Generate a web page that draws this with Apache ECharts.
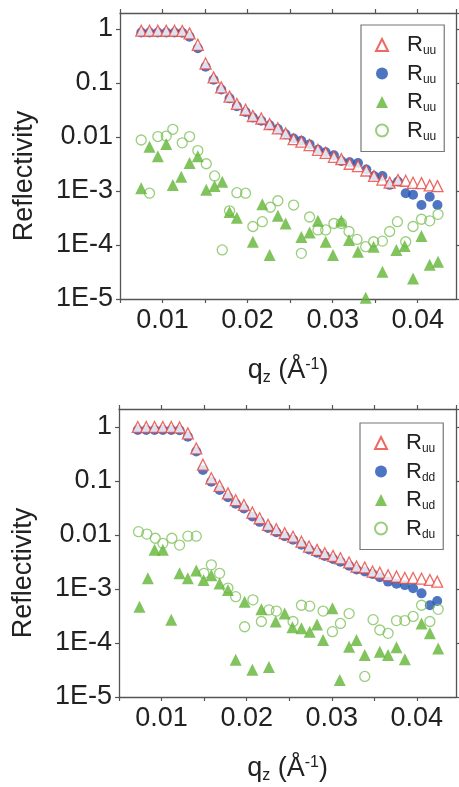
<!DOCTYPE html>
<html><head><meta charset="utf-8">
<script src="https://cdn.jsdelivr.net/npm/echarts@6/dist/echarts.min.js"></script>
<style>html,body{margin:0;padding:0;background:#fff}#c{width:459px;height:787px}</style>
</head><body><div id="c"></div>
<script>
// ---------- data: top panel ----------
const qTopUU = [0.0075,0.00847,0.00945,0.01044,0.01141,0.01232,0.01318,0.01415,0.01506,0.016,0.0169,0.01788,0.01874,0.01976,0.02062,0.02161,0.02259,0.02356,0.02447,0.02541,0.02632,0.02729,0.02827,0.02918,0.03015,0.03102,0.032,0.03298,0.03396,0.03486,0.03585,0.0367,0.03768,0.03859,0.03945,0.04044,0.04141,0.04232];
const rTopUU = [0.93,0.93,0.93,0.93,0.93,0.92,0.83,0.51,0.23,0.127,0.083,0.056,0.041,0.032,0.0245,0.022,0.0174,0.0145,0.0117,0.0091,0.0082,0.0071,0.0058,0.0051,0.0043,0.0039,0.0032,0.0029,0.0024,0.0019,0.00163,0.00143,0.0016,0.00155,0.00142,0.0014,0.00127,0.00123];
const rTopDD = [0.86,0.86,0.86,0.86,0.86,0.85,0.72,0.44,0.2,0.115,0.076,0.052,0.037,0.029,0.023,0.02,0.0165,0.014,0.0112,0.0094,0.0085,0.0073,0.0058,0.0052,0.0046,0.0036,0.0034,0.0033,0.0025,0.0019,0.0019,0.0013,0.0015,0.00091,0.00085,0.00055,0.00078,0.00055];
const qTopUD = [0.00749,0.00847,0.00945,0.01044,0.01121,0.0122,0.01318,0.01415,0.01514,0.01612,0.01702,0.01788,0.01874,0.02062,0.02173,0.02259,0.02356,0.02447,0.02632,0.02729,0.02827,0.02918,0.03004,0.03102,0.03192,0.03298,0.03388,0.03482,0.03585,0.03749,0.03847,0.03945,0.04044,0.04141,0.04239];
const rTopUD = [0.00112,0.0066,0.0044,0.0074,0.00129,0.00184,0.0033,0.0044,0.00105,0.00124,0.00149,0.00041,0.00032,0.000115,0.00057,6.5e-5,0.00035,0.00025,0.00014,0.00017,0.00028,0.000115,6.5e-5,0.00028,0.000124,7.5e-5,1.05e-5,9.3e-5,3.2e-5,8.1e-5,9.6e-5,2.4e-5,0.000147,4.3e-5,4.9e-5];
const qTopDU = [0.00749,0.00847,0.00945,0.01044,0.01121,0.01232,0.01318,0.01415,0.01514,0.01612,0.01702,0.01788,0.01874,0.01976,0.02062,0.02173,0.02268,0.02356,0.02541,0.02632,0.02729,0.02827,0.02918,0.03015,0.03102,0.03192,0.03286,0.03388,0.03482,0.03585,0.0367,0.03761,0.03859,0.03945,0.04044,0.04141,0.04239];
const rTopDU = [0.0088,0.00091,0.0102,0.0104,0.0139,0.0078,0.0102,0.0056,0.0032,0.0019,8.1e-5,0.00043,0.00093,0.00091,0.00022,0.00027,0.0005,0.00066,0.00055,7.0e-5,0.00033,0.00019,0.00019,0.00025,0.00025,0.000178,0.000127,9.3e-5,0.000115,0.000118,0.000178,0.00027,0.000115,0.00022,0.0003,0.00028,0.00037];

// ---------- data: bottom panel ----------
const qBotUU = [0.00721,0.0082,0.00918,0.01015,0.01114,0.01212,0.01309,0.01408,0.01486,0.01585,0.01682,0.0178,0.01871,0.01968,0.02067,0.02153,0.02251,0.02349,0.02447,0.02545,0.02644,0.02733,0.02827,0.02918,0.03015,0.03102,0.03204,0.03291,0.03388,0.03479,0.03565,0.03662,0.03761,0.03859,0.03956,0.04055,0.04153,0.04239];
const rBotUU = [1.0,1.0,1.0,1.0,1.0,0.98,0.76,0.40,0.20,0.112,0.081,0.059,0.044,0.036,0.026,0.0204,0.0154,0.0128,0.0108,0.0093,0.0075,0.0061,0.0053,0.0046,0.0041,0.0037,0.0031,0.0026,0.0025,0.0021,0.0020,0.0018,0.0017,0.0016,0.0016,0.00155,0.00147,0.00137];
const rBotDD = [0.88,0.88,0.88,0.88,0.88,0.87,0.66,0.35,0.16,0.097,0.068,0.05,0.038,0.031,0.022,0.0175,0.0135,0.0112,0.0095,0.0082,0.0066,0.0054,0.0047,0.0041,0.0036,0.0032,0.0027,0.0023,0.0021,0.0019,0.00165,0.00137,0.00125,0.00118,0.00103,0.00083,0.0005,0.0006];
const qBotUD = [0.00741,0.00839,0.00918,0.01015,0.01114,0.01212,0.01309,0.01408,0.01494,0.01585,0.01682,0.0178,0.01871,0.01976,0.02067,0.02173,0.02262,0.02341,0.02447,0.02538,0.02644,0.02741,0.02827,0.02898,0.03008,0.03094,0.03204,0.03291,0.03388,0.03565,0.03662,0.03761,0.03859,0.04055,0.04153,0.04251];
const rBotUD = [0.00047,0.00158,0.0053,0.0053,0.00027,0.00195,0.00158,0.0022,0.00147,0.0018,0.00127,0.00096,4.9e-5,0.00058,3.2e-5,0.00042,3.6e-5,0.00025,0.00035,0.000195,0.000187,0.000162,0.00022,0.000114,0.00044,2.06e-5,8.5e-5,0.000114,6.0e-5,6.9e-5,6.0e-5,8.3e-5,5.0e-5,0.00023,0.000151,7.9e-5];
const qBotDU = [0.0073,0.00827,0.00926,0.01015,0.01121,0.01212,0.01309,0.01408,0.01498,0.01585,0.01682,0.0178,0.01871,0.01976,0.02074,0.02173,0.02262,0.02349,0.02545,0.02644,0.02741,0.02898,0.03008,0.03102,0.03204,0.03388,0.03486,0.03565,0.03662,0.03761,0.03859,0.03956,0.04055,0.04153,0.04251];
const rBotDU = [0.0115,0.0104,0.0087,0.007,0.0087,0.0065,0.0095,0.0095,0.00195,0.0028,0.00195,0.00104,0.00072,0.0002,0.00063,0.00025,0.00041,0.00039,0.00025,0.0005,0.00048,0.00039,0.000162,0.00023,0.00035,2.4e-5,0.00027,0.000174,0.000151,0.00026,0.00026,0.00031,0.0005,0.00025,0.00042];

const xTickLabels = ['0.01','0.02','0.03','0.04'];
const legendSubsTop = ['uu','uu','uu','uu'];
const legendSubsBot = ['uu','dd','ud','du'];

// ---------- chart ----------
const FONT = '"Liberation Sans", Arial, sans-serif';
const AX = '#555', TXT = '#222';
const RED = '#e8433b', BLUE = '#2253b3', GREEN = '#62b536', LGREEN = '#7fc25b';
const chart = echarts.init(document.getElementById('c'), null, {renderer: 'canvas'});
const pairs = (q, r) => q.map((v, i) => [v, r[i]]);

function yLab(v) {
  const l = Math.log10(v), e = Math.round(l);
  if (Math.abs(l - e) > 1e-6) return '';
  if (e === 0) return '1';
  if (e === -1) return '0.1';
  if (e === -2) return '0.01';
  return '1E' + e;
}
function xLab(v) {
  const k = Math.round(v * 100);
  if (Math.abs(v * 100 - k) > 1e-6) return '';
  return xTickLabels[k - 1] || '';
}
const axLine = {lineStyle: {color: AX, width: 1.3}};
const axTick = {length: 4, lineStyle: {color: AX, width: 1.2}};

function xAxes(gi, max) {
  return [{
    type: 'value', gridIndex: gi, position: 'bottom', min: 0.005, max: max, interval: 0.005,
    splitLine: {show: false}, axisLine: axLine, axisTick: axTick,
    axisLabel: {fontSize: 27, color: TXT, fontFamily: FONT, margin: 8, formatter: xLab, showMinLabel: true, showMaxLabel: false},
    name: '{t|q}{sub|z}{t| (Å}{sup|-1}{t|)}', nameLocation: 'middle', nameGap: 57,
    nameTextStyle: {rich: {
      t: {fontSize: 27, color: TXT, fontFamily: FONT},
      sub: {fontSize: 16, color: TXT, fontFamily: FONT, padding: [14, 0, 0, 0]},
      sup: {fontSize: 16, color: TXT, fontFamily: FONT, padding: [0, 0, 12, 0]}
    }}
  }, {
    type: 'value', gridIndex: gi, position: 'top', min: 0.005, max: max, interval: 0.005,
    splitLine: {show: false}, axisLine: axLine, axisTick: axTick, axisLabel: {show: false}
  }];
}
function yAxes(gi, max) {
  return [{
    type: 'log', logBase: 10, gridIndex: gi, position: 'left', min: 1e-5, max: max,
    splitLine: {show: false}, axisLine: axLine, axisTick: axTick,
    axisLabel: {fontSize: 27, color: TXT, fontFamily: FONT, margin: 7, formatter: yLab, showMaxLabel: false},
    name: 'Reflectivity', nameLocation: 'middle', nameGap: 82, nameRotate: 90,
    nameTextStyle: {fontSize: 27, color: TXT, fontFamily: FONT, padding: [0, 40, 0, 0]}
  }, {
    type: 'log', logBase: 10, gridIndex: gi, position: 'right', min: 1e-5, max: max,
    splitLine: {show: false}, axisLine: axLine, axisTick: axTick, axisLabel: {show: false}
  }];
}

function panelSeries(p, xi, yi, qUU, rUU, rDD, qUD, rUD, qDU, rDU) {
  return [
    {name: p + 'dd', type: 'scatter', xAxisIndex: xi, yAxisIndex: yi, symbol: 'circle', symbolSize: 10, z: 2,
     itemStyle: {color: BLUE}, data: pairs(qUU, rDD)},
    {name: p + 'uu', type: 'scatter', xAxisIndex: xi, yAxisIndex: yi, symbol: 'triangle', symbolSize: 11, z: 3,
     itemStyle: {color: '#fff', borderColor: RED, borderWidth: 1.3}, data: pairs(qUU, rUU)},
    {name: p + 'du', type: 'scatter', xAxisIndex: xi, yAxisIndex: yi, symbol: 'circle', symbolSize: 10, z: 4,
     itemStyle: {color: 'rgba(255,255,255,0)', borderColor: LGREEN, borderWidth: 1.3}, data: pairs(qDU, rDU)},
    {name: p + 'ud', type: 'scatter', xAxisIndex: xi, yAxisIndex: yi, symbol: 'triangle', symbolSize: 12, z: 5,
     itemStyle: {color: GREEN}, data: pairs(qUD, rUD)}
  ];
}

function legendCfg(p, subs, left, top) {
  const names = [p + 'uu', p + 'dd', p + 'ud', p + 'du'];
  return {
    left: left, top: top, orient: 'vertical', data: names, selectedMode: false,
    itemWidth: 12, itemHeight: 12, itemGap: 5.5, padding: [9, 8, 9, 14],
    borderColor: '#777', borderWidth: 1.2, backgroundColor: '#fff',
    formatter: n => '{r|R}{s|' + subs[names.indexOf(n)] + '}',
    textStyle: {rich: {
      r: {fontSize: 22, color: TXT, fontFamily: FONT, lineHeight: 22, padding: [0, 0, 0, 14]},
      s: {fontSize: 12, color: TXT, fontFamily: FONT, padding: [12, 0, 0, 0]}
    }}
  };
}

chart.setOption({
  animation: false,
  backgroundColor: '#fff',
  grid: [
    {left: 120, top: 13, width: 336, height: 286},
    {left: 119, top: 409, width: 337, height: 288}
  ],
  xAxis: [...xAxes(0, 0.0445), ...xAxes(1, 0.0446)],
  yAxis: [...yAxes(0, 1.98), ...yAxes(1, 2.15)],
  legend: [legendCfg('t', legendSubsTop, 361, 25), legendCfg('b', legendSubsBot, 360, 423)],
  series: [
    ...panelSeries('t', 0, 0, qTopUU, rTopUU, rTopDD, qTopUD, rTopUD, qTopDU, rTopDU),
    ...panelSeries('b', 2, 2, qBotUU, rBotUU, rBotDD, qBotUD, rBotUD, qBotDU, rBotDU)
  ]
});
</script></body></html>
